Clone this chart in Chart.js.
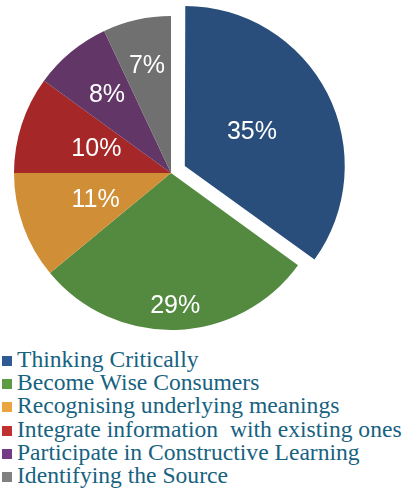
<!DOCTYPE html>
<html>
<head>
<meta charset="utf-8">
<script src="https://cdn.jsdelivr.net/npm/chart.js@4/dist/chart.umd.min.js"></script>
<style>
    html, body { margin: 0; padding: 0; background: #fff; }
    #wrap { position: relative; width: 402px; height: 491px; overflow: hidden; }
    #chartBox { position: absolute; left: 0; top: 0; width: 402px; height: 344px; }
    #legend { position: absolute; left: 2px; top: 348px; margin: 0; padding: 0; list-style: none;
        font-family: "Liberation Serif", "Times New Roman", serif; font-size: 23.6px; line-height: 23.2px;
        color: #17627f; white-space: pre; }
    #legend li { margin: 0; padding: 0; }
    #legend .box { display: inline-block; width: 10px; height: 10px; margin-right: 5px; vertical-align: 1px; }
</style>
</head>
<body>
<div id="wrap">
    <div id="chartBox"><canvas id="pieChart"></canvas></div>
    <ul id="legend"></ul>
</div>
<script>
// 데이터
const categories = [
    'Thinking Critically',
    'Become Wise Consumers',
    'Recognising underlying meanings',
    'Integrate information  with existing ones',
    'Participate in Constructive Learning',
    'Identifying the Source'
];
const shares = [35, 29, 11, 10, 8, 7];
const sliceColors = ['#2a4e7b', '#538a3f', '#d08f37', '#a52728', '#623768', '#6f706f'];
const legendColors = ['#2e5b94', '#5e9b45', '#eba540', '#c03030', '#753a86', '#808080'];

// 조각 안 퍼센트 라벨 (반지름 대비 위치)
const labelRadius = [0.48, 0.85, 0.51, 0.50, 0.64, 0.70];

const sliceLabels = {
    id: 'sliceLabels',
    afterDatasetsDraw(chart) {
        const ctx = chart.ctx;
        const meta = chart.getDatasetMeta(0);
        const ds = chart.data.datasets[0];
        ctx.save();
        ctx.fillStyle = '#ffffff';
        ctx.font = '25px "Liberation Sans", Arial, sans-serif';
        ctx.textAlign = 'center';
        ctx.textBaseline = 'middle';
        meta.data.forEach((arc, i) => {
            const p = arc.getProps(['x', 'y', 'startAngle', 'endAngle', 'outerRadius'], true);
            const mid = (p.startAngle + p.endAngle) / 2;
            const shift = (ds.offset[i] || 0) / 4;
            const d = p.outerRadius * labelRadius[i] + shift;
            ctx.fillText(ds.data[i] + '%', p.x + Math.cos(mid) * d, p.y + Math.sin(mid) * d);
        });
        ctx.restore();
    }
};

const pieCtx = document.getElementById('pieChart').getContext('2d');
const pieChart = new Chart(pieCtx, {
    type: 'pie',
    data: {
        labels: categories,
        datasets: [{
            data: shares,
            backgroundColor: sliceColors,
            borderWidth: 0,
            offset: [62, 0, 0, 0, 0, 0],
            radius: 157
        }]
    },
    options: {
        responsive: true,
        maintainAspectRatio: false,
        animation: false,
        layout: { padding: { left: 0, right: 60, top: 2, bottom: 0 } },
        plugins: {
            legend: { display: false },
            tooltip: { enabled: false }
        }
    },
    plugins: [sliceLabels]
});

// 범례
const legendEl = document.getElementById('legend');
categories.forEach((name, i) => {
    const li = document.createElement('li');
    const box = document.createElement('span');
    box.className = 'box';
    box.style.background = legendColors[i];
    li.appendChild(box);
    li.appendChild(document.createTextNode(name));
    legendEl.appendChild(li);
});
</script>
</body>
</html>
